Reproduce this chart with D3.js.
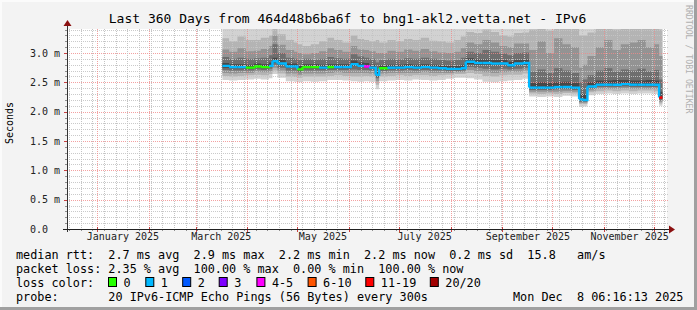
<!DOCTYPE html>
<html>
<head>
<meta charset="utf-8">
<script src="https://cdn.jsdelivr.net/npm/d3@7"></script>
<style>
  body { margin: 0; background: #f3f3f3; }
  svg { display: block; }
  text { font-family: "DejaVu Sans Mono", monospace; white-space: pre; }
</style>
</head>
<body>
<svg id="chart" width="697" height="310"></svg>
<script>
// one sample per few days, values in ms
var sampleDates = ["2025-03-17","2025-03-21","2025-03-26","2025-03-31","2025-04-05","2025-04-09","2025-04-14","2025-04-16","2025-04-19","2025-04-24",
  "2025-04-29","2025-05-01","2025-05-04","2025-05-09","2025-05-14","2025-05-19","2025-05-23","2025-05-28","2025-06-02","2025-06-06",
  "2025-06-10","2025-06-13","2025-06-17","2025-06-19","2025-06-24","2025-06-29","2025-07-04","2025-07-09","2025-07-14","2025-07-19",
  "2025-07-24","2025-07-29","2025-08-03","2025-08-07","2025-08-10","2025-08-15","2025-08-20","2025-08-25","2025-08-30","2025-09-04",
  "2025-09-08","2025-09-13","2025-09-17","2025-09-22","2025-09-27","2025-10-02","2025-10-07","2025-10-12","2025-10-17","2025-10-19",
  "2025-10-22","2025-10-27","2025-11-01","2025-11-06","2025-11-11","2025-11-16","2025-11-21","2025-11-26","2025-12-01","2025-12-04"];
var lastSampleEnd = "2025-12-06";

var medianMs = [2.78,2.76,2.76,2.75,2.77,2.76,2.78,2.86,2.82,2.77,2.77,2.72,2.76,2.76,2.75,2.76,2.76,2.76,2.81,2.78,
  2.77,2.75,2.63,2.74,2.75,2.75,2.76,2.75,2.76,2.75,2.74,2.73,2.73,2.74,2.85,2.83,2.83,2.82,2.82,2.79,
  2.82,2.83,2.41,2.41,2.41,2.42,2.42,2.41,2.21,2.20,2.43,2.46,2.46,2.46,2.47,2.46,2.46,2.46,2.46,2.24];
var lossCount = [1,1,1,0,0,0,1,1,1,1,1,0,0,0,1,0,1,1,1,1,
  5,1,1,0,1,1,1,1,1,1,1,1,1,1,1,1,1,1,1,1,
  1,1,1,1,1,1,1,1,1,1,1,1,1,1,1,1,1,1,1,15];

// sorted ping ranks (out of 20) for the smoke
var pingMin = [2.54,2.53,2.54,2.55,2.56,2.55,2.57,2.64,2.58,2.52,2.51,2.50,2.52,2.51,2.52,2.54,2.54,2.53,2.52,2.51,
  2.52,2.51,2.38,2.52,2.53,2.54,2.53,2.55,2.54,2.53,2.54,2.56,2.58,2.58,2.57,2.55,2.51,2.50,2.52,2.53,
  2.54,2.56,2.26,2.25,2.26,2.25,2.27,2.26,2.08,2.09,2.28,2.30,2.31,2.30,2.31,2.30,2.31,2.31,2.30,2.10];
var ping3 = [2.61,2.60,2.61,2.62,2.63,2.62,2.64,2.70,2.65,2.60,2.59,2.58,2.60,2.60,2.60,2.61,2.62,2.61,2.60,2.60,
  2.61,2.60,2.46,2.60,2.61,2.62,2.61,2.62,2.62,2.61,2.62,2.63,2.64,2.64,2.66,2.64,2.61,2.60,2.62,2.63,
  2.63,2.65,2.31,2.30,2.31,2.30,2.32,2.31,2.13,2.13,2.33,2.35,2.36,2.35,2.36,2.35,2.36,2.36,2.35,2.14];
var ping5 = [2.66,2.65,2.66,2.66,2.68,2.67,2.69,2.75,2.70,2.65,2.65,2.63,2.65,2.65,2.65,2.66,2.67,2.66,2.66,2.66,
  2.66,2.65,2.52,2.65,2.66,2.66,2.66,2.66,2.67,2.66,2.66,2.66,2.67,2.67,2.71,2.69,2.67,2.66,2.67,2.68,
  2.68,2.70,2.34,2.34,2.34,2.34,2.35,2.34,2.15,2.15,2.36,2.39,2.39,2.39,2.40,2.39,2.39,2.39,2.39,2.17];
var ping7 = [2.71,2.70,2.70,2.70,2.72,2.71,2.73,2.80,2.75,2.70,2.70,2.67,2.70,2.70,2.70,2.71,2.71,2.71,2.72,2.71,
  2.71,2.70,2.57,2.69,2.70,2.70,2.71,2.70,2.71,2.70,2.70,2.69,2.69,2.70,2.76,2.75,2.73,2.72,2.73,2.72,
  2.73,2.75,2.37,2.37,2.37,2.38,2.38,2.37,2.17,2.17,2.39,2.42,2.42,2.42,2.43,2.42,2.42,2.42,2.42,2.19];
var ping9 = [2.75,2.74,2.74,2.73,2.75,2.74,2.76,2.83,2.79,2.75,2.75,2.70,2.74,2.74,2.73,2.74,2.74,2.74,2.78,2.76,
  2.75,2.73,2.60,2.72,2.73,2.73,2.74,2.73,2.74,2.73,2.72,2.71,2.71,2.72,2.81,2.80,2.80,2.79,2.79,2.76,
  2.79,2.80,2.39,2.39,2.39,2.40,2.40,2.39,2.19,2.19,2.41,2.44,2.44,2.44,2.45,2.44,2.44,2.44,2.44,2.22];
var ping12 = [2.83,2.81,2.81,2.80,2.82,2.81,2.84,2.92,2.88,2.82,2.82,2.78,2.81,2.81,2.80,2.81,2.81,2.81,2.87,2.84,
  2.83,2.80,2.70,2.79,2.80,2.80,2.81,2.80,2.81,2.80,2.79,2.78,2.78,2.80,2.91,2.89,2.89,2.88,2.88,2.85,
  2.88,2.89,2.49,2.50,2.49,2.50,2.51,2.49,2.30,2.30,2.50,2.53,2.53,2.54,2.54,2.53,2.53,2.54,2.53,2.34];
var ping14 = [2.93,2.90,2.92,2.90,2.91,2.92,2.96,3.15,3.00,2.92,2.90,2.88,2.90,2.89,2.90,2.93,2.91,2.90,2.98,2.94,
  2.92,2.90,2.84,2.88,2.90,2.89,2.91,2.90,2.92,2.90,2.88,2.87,2.88,2.92,3.02,3.00,3.05,3.02,2.99,2.96,
  3.00,3.01,2.68,2.72,2.66,2.74,2.70,2.66,2.50,2.55,2.62,2.70,2.74,2.68,2.72,2.70,2.73,2.69,2.71,2.55];
var ping16 = [3.06,3.02,3.08,3.03,3.04,3.07,3.12,3.30,3.14,3.05,3.02,3.00,2.98,3.00,3.03,3.08,3.05,3.02,3.12,3.06,
  3.05,3.03,3.00,3.00,3.04,3.02,3.06,3.04,3.07,3.03,3.01,3.00,3.02,3.08,3.18,3.15,3.22,3.18,3.12,3.10,
  3.16,3.16,3.05,3.20,3.00,3.25,3.15,3.10,2.75,2.80,2.95,3.10,3.22,3.05,3.15,3.18,3.22,3.10,3.15,2.95];
var ping18 = [3.25,3.20,3.28,3.22,3.22,3.26,3.30,3.42,3.32,3.22,3.18,3.15,3.12,3.15,3.20,3.26,3.22,3.18,3.30,3.24,
  3.22,3.20,3.22,3.18,3.22,3.20,3.24,3.22,3.26,3.21,3.20,3.18,3.22,3.28,3.36,3.34,3.40,3.36,3.30,3.28,
  3.34,3.35,3.40,3.45,3.38,3.45,3.45,3.42,3.30,3.30,3.35,3.42,3.45,3.40,3.45,3.45,3.45,3.42,3.45,3.40];
var pingMax = [3.62,3.58,3.66,3.60,3.61,3.64,3.70,3.80,3.68,3.60,3.57,3.55,3.52,3.56,3.60,3.65,3.60,3.58,3.70,3.62,
  3.60,3.58,3.62,3.56,3.60,3.58,3.62,3.60,3.65,3.60,3.58,3.56,3.60,3.66,3.75,3.72,3.80,3.74,3.70,3.66,
  3.72,3.74,3.80,3.85,3.78,3.86,3.85,3.82,3.70,3.70,3.75,3.82,3.86,3.80,3.85,3.84,3.86,3.82,3.85,3.80];

var lossLabels = ["0", "1", "2", "3", "4-5", "6-10", "11-19", "20/20"];
var lossColors = ["#26ff00", "#00b8ff", "#0059ff", "#7e00ff", "#ff00ff", "#ff5500", "#ff0000", "#a10000"];
var lossMaxCount = [0, 1, 2, 3, 5, 10, 19, 20];

var yTickValues = [0, 0.5, 1.0, 1.5, 2.0, 2.5, 3.0];
var yTickLabels = ["0.0", "0.5 m", "1.0 m", "1.5 m", "2.0 m", "2.5 m", "3.0 m"];
var xLabelMonths = ["2025-01-01", "2025-03-01", "2025-05-01", "2025-07-01", "2025-09-01", "2025-11-01"];

var titleText = "Last 360 Days from 464d48b6ba6f to bng1-akl2.vetta.net - IPv6";
var legendLines = [
  "median rtt:  2.7 ms avg  2.9 ms max  2.2 ms min  2.2 ms now  0.2 ms sd  15.8   am/s",
  "packet loss: 2.35 % avg  100.00 % max  0.00 % min  100.00 % now",
  "loss color:",
  "probe:       20 IPv6-ICMP Echo Pings (56 Bytes) every 300s"
];
var stampText = "Mon Dec  8 06:16:13 2025";

var parse = d3.timeParse("%Y-%m-%d");
var svg = d3.select("#chart");
var plotLeft = 67, plotRight = 667, plotTop = 29, plotBottom = 229;

var x = d3.scaleTime()
  .domain([new Date(2024, 11, 13, 6, 16, 13), new Date(2025, 11, 8, 6, 16, 13)])
  .range([66.2, 666.2]);
var y = d3.scaleLinear().domain([0, 3.409]).range([plotBottom, plotTop]);

// background + 3d frame
svg.append("rect").attr("width", 697).attr("height", 310).attr("fill", "#f3f3f3");
svg.append("path").attr("d", "M0,0H697V2H2V310H0Z").attr("fill", "#fbfbfb");
svg.append("path").attr("d", "M697,0V310H0V307H694V0Z").attr("fill", "#a0a0a0");
svg.append("rect").attr("x", plotLeft).attr("y", plotTop)
  .attr("width", plotRight - plotLeft).attr("height", plotBottom - plotTop).attr("fill", "#ffffff");

svg.append("clipPath").attr("id", "plotclip").append("rect")
  .attr("x", plotLeft).attr("y", plotTop).attr("width", plotRight - plotLeft).attr("height", plotBottom - plotTop);

var rows = sampleDates.map(function(d, i) {
  return { date: parse(d), median: medianMs[i], loss: lossCount[i],
    lo: [pingMin[i], ping3[i], ping5[i], ping7[i], ping9[i]],
    hi: [pingMax[i], ping18[i], ping16[i], ping14[i], ping12[i]] };
});
// close the last step
var closing = Object.assign({}, rows[rows.length - 1], { date: parse(lastSampleEnd) });
var stepRows = rows.concat([closing]);

// smoke, outer band first, darker inside
var smokeGrays = ["#d2d2d2", "#b4b4b4", "#939393", "#6e6e6e", "#484848"];
var smoke = svg.append("g").attr("clip-path", "url(#plotclip)");
smokeGrays.forEach(function(col, k) {
  var area = d3.area()
    .curve(d3.curveStepAfter)
    .x(function(d) { return x(d.date); })
    .y0(function(d) { return y(d.lo[k]); })
    .y1(function(d) { return y(d.hi[k]); });
  smoke.append("path").datum(stepRows).attr("d", area).attr("fill", col);
});

// grid
var grid = svg.append("g").attr("shape-rendering", "crispEdges");
d3.range(1, 35).forEach(function(i) {
  var v = i / 10;
  if (y(v) < plotTop) return;
  var major = i % 5 === 0;
  grid.append("line")
    .attr("x1", plotLeft).attr("x2", plotRight + 2)
    .attr("y1", Math.round(y(v)) + 0.5).attr("y2", Math.round(y(v)) + 0.5)
    .attr("stroke", major ? "#f08a8a" : "#c4c4c4")
    .attr("stroke-opacity", major ? 0.8 : 0.9)
    .attr("stroke-dasharray", "1,1");
  grid.append("line")
    .attr("x1", plotLeft - (major ? 3 : 2)).attr("x2", plotLeft)
    .attr("y1", Math.round(y(v)) + 0.5).attr("y2", Math.round(y(v)) + 0.5)
    .attr("stroke", major ? "#c84040" : "#909090");
});
var dom = x.domain();
d3.timeSunday.range(dom[0], dom[1]).forEach(function(d) {
  var px = Math.round(x(d)) + 0.5;
  grid.append("line").attr("x1", px).attr("x2", px).attr("y1", plotTop).attr("y2", plotBottom)
    .attr("stroke", "#c4c4c4").attr("stroke-dasharray", "1,1");
  grid.append("line").attr("x1", px).attr("x2", px).attr("y1", plotBottom).attr("y2", plotBottom + 2)
    .attr("stroke", "#909090");
});
d3.timeMonth.range(dom[0], dom[1]).forEach(function(d) {
  var px = Math.round(x(d)) + 0.5;
  grid.append("line").attr("x1", px).attr("x2", px).attr("y1", plotTop).attr("y2", plotBottom)
    .attr("stroke", "#f08a8a").attr("stroke-opacity", 0.8).attr("stroke-dasharray", "1,1");
  grid.append("line").attr("x1", px).attr("x2", px).attr("y1", plotBottom - 2).attr("y2", plotBottom + 3)
    .attr("stroke", "#c84040");
});

// median line coloured by loss
var lossColor = function(n) {
  for (var i = 0; i < lossMaxCount.length; i++) if (n <= lossMaxCount[i]) return lossColors[i];
  return lossColors[lossColors.length - 1];
};
var medLine = d3.line().curve(d3.curveStepAfter)
  .x(function(d) { return x(d.date); })
  .y(function(d) { return y(d.median); });
var med = svg.append("g").attr("clip-path", "url(#plotclip)");
rows.forEach(function(r, i) {
  var next = stepRows[i + 1];
  med.append("path")
    .attr("d", medLine([r, { date: next.date, median: i + 1 < rows.length ? next.median : r.median }]))
    .attr("fill", "none").attr("stroke", lossColor(r.loss)).attr("stroke-width", 2.4);
});

// axes
svg.append("line").attr("x1", plotLeft + 0.5).attr("x2", plotLeft + 0.5).attr("y1", plotBottom + 3).attr("y2", 24)
  .attr("stroke", "#333");
svg.append("line").attr("x1", 63).attr("x2", 670).attr("y1", plotBottom + 0.5).attr("y2", plotBottom + 0.5)
  .attr("stroke", "#222");
svg.append("path").attr("d", "M63.5,26 L67.5,20 L71.5,26 Z").attr("fill", "#8b1010");
svg.append("path").attr("d", "M669,225.5 L675,229.5 L669,233.5 Z").attr("fill", "#8b1010");

var yAxis = d3.axisLeft(y).tickValues(yTickValues).tickSize(0)
  .tickFormat(function(d, i) { return yTickLabels[i]; });
svg.append("g").attr("transform", "translate(" + plotLeft + ",0)").call(yAxis)
  .call(function(g) { g.select(".domain").remove(); })
  .selectAll("text").attr("text-anchor", "start").attr("x", -37)
  .attr("font-family", "DejaVu Sans Mono").attr("font-size", 10).attr("fill", "#222");

var xAxis = d3.axisBottom(x)
  .tickValues(xLabelMonths.map(function(m) { return d3.timeDay.offset(parse(m), 15); }))
  .tickSize(0).tickPadding(0)
  .tickFormat(d3.timeFormat("%B %Y"));
svg.append("g").attr("transform", "translate(0," + (plotBottom + 4) + ")").call(xAxis)
  .call(function(g) { g.select(".domain").remove(); })
  .selectAll("text").attr("font-family", "DejaVu Sans Mono").attr("font-size", 10).attr("fill", "#222")
  .attr("dy", "0.72em");

// texts
svg.append("text").attr("x", 347.5).attr("y", 22.5).attr("text-anchor", "middle")
  .attr("font-size", 13).text(titleText);
svg.append("text").attr("transform", "translate(13,123) rotate(-90)").attr("text-anchor", "middle")
  .attr("font-family", "DejaVu Sans").attr("font-size", 10).text("Seconds");
svg.append("text").attr("transform", "translate(686,5) rotate(90)")
  .attr("font-size", 8.2).attr("fill", "#b0b0b0").text("RRDTOOL / TOBI OETIKER");

var legendY = [258.5, 272.5, 286.5, 300.5];
legendLines.forEach(function(t, i) {
  svg.append("text").attr("x", 16).attr("y", legendY[i]).attr("font-size", 11.8).text(t);
});
svg.append("text").attr("x", 513).attr("y", legendY[3]).attr("font-size", 11.8).text(stampText);

var boxX = [108, 145.3, 182.2, 218.7, 256.4, 307.6, 365.3, 429.8];
lossLabels.forEach(function(lbl, i) {
  svg.append("rect").attr("x", boxX[i] + 0.5).attr("y", 277.5).attr("width", 8).attr("height", 9)
    .attr("fill", lossColors[i]).attr("stroke", "#000");
  svg.append("text").attr("x", boxX[i] + 15.5).attr("y", legendY[2]).attr("font-size", 11.8).text(lbl);
});
</script>
</body>
</html>
